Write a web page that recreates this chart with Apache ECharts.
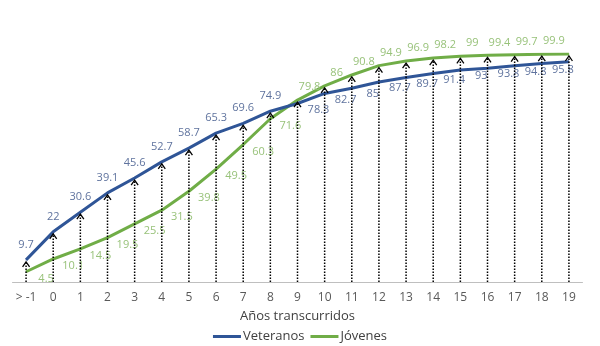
<!DOCTYPE html>
<html><head><meta charset="utf-8">
<script src="https://cdn.jsdelivr.net/npm/echarts@6/dist/echarts.min.js"></script>
<style>html,body{margin:0;padding:0;background:#fff}#c{width:600px;height:346px}</style>
</head><body><div id="c"></div>
<script>
const categories = ['> -1','0','1','2','3','4','5','6','7','8','9','10','11','12','13','14','15','16','17','18','19'];
const veteranos = [9.7,22,30.6,39.1,45.6,52.7,58.7,65.3,69.6,74.9,78.3,82.7,85,87.7,89.7,91.4,93,93.8,94.8,95.8,96.6];
const jovenes = [4.5,10.1,14.5,19.5,25.5,31.5,39.8,49.5,60.3,71.6,79.8,86,90.8,94.9,96.9,98.2,99,99.4,99.7,99.9,100];
const seriesNames = ['Veteranos','Jóvenes'];

const FONT = '"Open Sans", "Noto Sans", sans-serif';
const BLUE = '#2F5597', GREEN = '#70AD47';
const BLUE_LBL = '#5F739E', GREEN_LBL = '#98C27A';
const lastIdx = categories.length - 1;

function items(vals, color, earlyOff, lateOff) {
  return vals.map((v, i) => ({
    value: v,
    label: {
      show: i !== lastIdx,
      position: 'inside',
      offset: i < 10 ? earlyOff : lateOff,
      color: color, fontSize: 11, fontFamily: FONT
    }
  }));
}
const arrowTop = veteranos.map((v, i) => Math.max(v, jovenes[i]));

const chart = echarts.init(document.getElementById('c'), null, {renderer: 'canvas'});
chart.setOption({
  animation: false,
  grid: {left: 12.5, right: 17.5, top: 54, bottom: 64},
  legend: {
    data: seriesNames, bottom: -2, left: 'center', icon: 'rect',
    itemWidth: 28, itemHeight: 3, itemGap: 6,
    textStyle: {fontFamily: FONT, fontSize: 13, color: '#404040', padding: [0, 0, 0, -3]}
  },
  xAxis: {
    type: 'category', data: categories, boundaryGap: true,
    axisLine: {lineStyle: {color: '#BFBFBF', width: 1}},
    axisTick: {show: false},
    axisLabel: {color: '#595959', fontSize: 12, fontFamily: FONT, margin: 10},
    name: 'Años transcurridos', nameLocation: 'middle', nameGap: 28,
    nameTextStyle: {color: '#404040', fontSize: 13, fontFamily: FONT}
  },
  yAxis: {type: 'value', min: 0, max: 100, show: false, splitLine: {show: false}},
  series: [
    {
      name: 'Veteranos', type: 'line', data: items(veteranos, BLUE_LBL, [0, -15], [21, 6]),
      symbol: 'circle', symbolSize: 1, itemStyle: {color: BLUE},
      lineStyle: {color: BLUE, width: 3}, z: 3
    },
    {
      name: 'Jóvenes', type: 'line', data: items(jovenes, GREEN_LBL, [20, 7], [12, -13]),
      symbol: 'circle', symbolSize: 1, itemStyle: {color: GREEN},
      lineStyle: {color: GREEN, width: 3}, z: 2
    },
    {
      name: 'arrows', type: 'custom', z: 4,
      data: categories.map((c, i) => [i, arrowTop[i]]),
      encode: {x: 0, y: 1},
      renderItem: function (params, api) {
        const b = api.coord([api.value(0), 0]);
        const t = api.coord([api.value(0), api.value(1)]);
        return {
          type: 'group', children: [
            {type: 'line', shape: {x1: b[0], y1: b[1], x2: t[0], y2: t[1] + 2},
             style: {stroke: '#000', lineWidth: 1.5, lineDash: [1.5, 1.5], fill: null}},
            {type: 'polyline', shape: {points: [[t[0] - 3.5, t[1] + 7], [t[0], t[1] + 2], [t[0] + 3.5, t[1] + 7]]},
             style: {stroke: '#000', lineWidth: 1.3, fill: null}}
          ]
        };
      }
    }
  ]
});
</script></body></html>
